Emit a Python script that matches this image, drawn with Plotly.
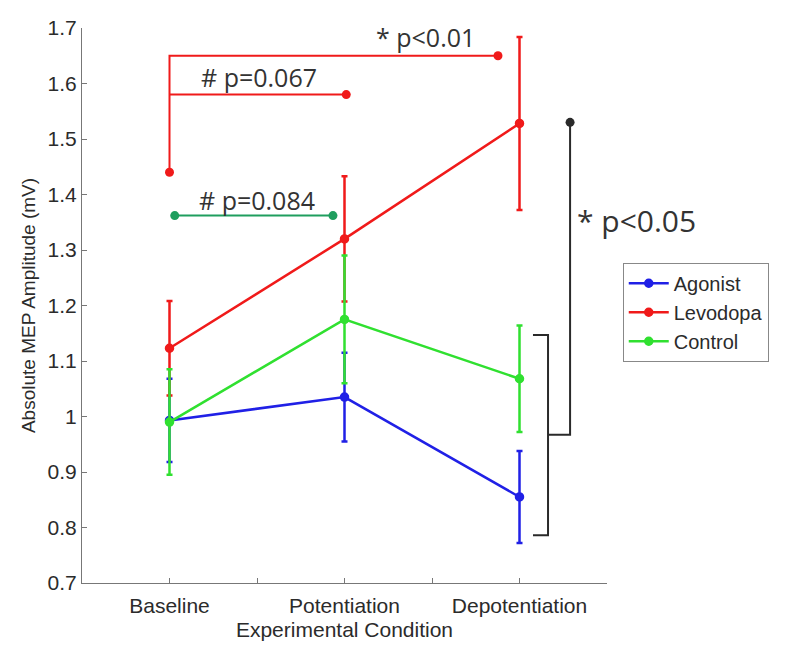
import plotly.graph_objects as go

# ---- data ----
categories = ["Baseline", "Potentiation", "Depotentiation"]
x_pos = [1, 2, 3]
agonist_mean = [0.993, 1.035, 0.855]
agonist_err = [0.075, 0.080, 0.083]
levodopa_mean = [1.123, 1.320, 1.528]
levodopa_err = [0.085, 0.113, 0.156]
control_mean = [0.990, 1.175, 1.068]
control_err = [0.095, 0.115, 0.096]

y_ticks = [0.7, 0.8, 0.9, 1.0, 1.1, 1.2, 1.3, 1.4, 1.5, 1.6, 1.7]
y_ticklabels = ["0.7", "0.8", "0.9", "1", "1.1", "1.2", "1.3", "1.4", "1.5", "1.6", "1.7"]
x_ticks = [0.5, 1, 1.5, 2, 2.5, 3, 3.5]
x_ticklabels = ["", "Baseline", "", "Potentiation", "", "Depotentiation", ""]

# significance brackets (data coordinates)
red_long_x = [1, 1, 2.877]
red_long_y = [1.44, 1.65, 1.65]
red_short_x = [1, 2.01]
red_short_y = [1.58, 1.58]
green_sig_x = [1.03, 1.934]
green_sig_y = [1.362, 1.362]
black_stem_x = [3.289, 3.289, 3.163]
black_stem_y = [1.53, 0.967, 0.967]
black_brace_x = [3.077, 3.163, 3.163, 3.077]
black_brace_y = [1.147, 1.147, 0.786, 0.786]

labels = ["* p<0.01", "# p=0.067", "# p=0.084", "* p<0.05"]
label_x = [2.46, 1.51, 1.50, 3.67]
label_y = [1.684, 1.612, 1.39, 1.354]

BLUE = "#2020e6"
RED = "#f01a1a"
GREEN = "#30e030"
TEAL = "#1f9e5e"
BLACK = "#2a2a2a"

X0, X1 = 0.5, 3.5

fig = go.Figure()

def series(name, y, err, color):
    fig.add_trace(go.Scatter(
        x=x_pos, y=y, name=name, mode="lines+markers",
        line=dict(color=color, width=2.5),
        marker=dict(symbol="circle", size=8, color=color, line=dict(color=color, width=1.5)),
        error_y=dict(type="data", array=err, visible=True, color=color, thickness=2.5, width=3),
    ))

series("Agonist", agonist_mean, agonist_err, BLUE)
series("Levodopa", levodopa_mean, levodopa_err, RED)
series("Control", control_mean, control_err, GREEN)

def line(x, y, color):
    fig.add_trace(go.Scatter(x=x, y=y, mode="lines", line=dict(color=color, width=2),
                             showlegend=False, hoverinfo="skip", cliponaxis=False))

def dots(x, y, color):
    fig.add_trace(go.Scatter(x=x, y=y, mode="markers", marker=dict(color=color, size=9),
                             showlegend=False, hoverinfo="skip", cliponaxis=False))

line(red_long_x, red_long_y, RED)
line(red_short_x, red_short_y, RED)
dots([red_long_x[0], red_long_x[-1], red_short_x[-1]],
     [red_long_y[0], red_long_y[-1], red_short_y[-1]], RED)
line(green_sig_x, green_sig_y, TEAL)
dots(green_sig_x, green_sig_y, TEAL)
line(black_stem_x, black_stem_y, BLACK)
line(black_brace_x, black_brace_y, BLACK)
dots([black_stem_x[0]], [black_stem_y[0]], BLACK)

sizes = [25, 25, 25, 30]
for t, xx, yy, s in zip(labels, label_x, label_y, sizes):
    inside = X0 <= xx <= X1
    fig.add_annotation(
        x=xx if inside else (xx - X0) / (X1 - X0), y=yy,
        xref="x" if inside else "paper", yref="y", text=t, showarrow=False,
        xanchor="center", yanchor="middle",
        font=dict(family="Open Sans", size=s, color="#333333"))

axis_font = dict(family="Liberation Sans, Arial", size=21, color="#2b2b2b")
fig.update_layout(
    width=783, height=646,
    margin=dict(l=74, r=184, t=20, b=71),
    paper_bgcolor="white", plot_bgcolor="white",
    font=axis_font,
    legend=dict(x=1.03, y=0.577, xanchor="left", yanchor="top",
                bordercolor="#888888", borderwidth=1, bgcolor="white",
                font=dict(family="Liberation Sans, Arial", size=20, color="#2b2b2b"),
                tracegroupgap=0, itemwidth=40),
    xaxis=dict(range=[X0, X1], tickvals=x_ticks, ticktext=x_ticklabels,
               ticks="inside", ticklen=5, tickcolor="#777777", ticklabelstandoff=4,
               showline=True, linecolor="#777777", linewidth=1, automargin=False,
               showgrid=False, zeroline=False, tickfont=axis_font,
               title=dict(text="Experimental Condition", font=axis_font, standoff=6)),
    yaxis=dict(range=[0.7, 1.7], tickvals=y_ticks, ticktext=y_ticklabels,
               ticks="inside", ticklen=5, tickcolor="#777777",
               showline=True, linecolor="#777777", linewidth=1, automargin=False,
               showgrid=False, zeroline=False, tickfont=axis_font,
               title=dict(text="Absolute MEP Amplitude (mV)",
                          font=dict(family="Liberation Sans, Arial", size=19, color="#2b2b2b"),
                          standoff=6)),
)

fig.write_html("out.html")
